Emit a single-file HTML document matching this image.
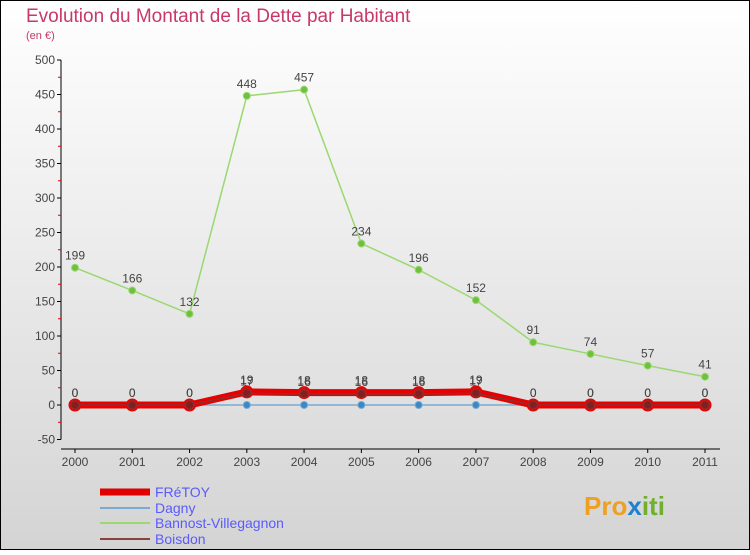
<!DOCTYPE html>
<html><head><meta charset="utf-8"><style>
body{margin:0;}
svg text{font-family:"Liberation Sans",sans-serif;}
</style></head><body>
<svg id="c" width="750" height="550" xmlns="http://www.w3.org/2000/svg">
<defs><linearGradient id="bg" x1="0" y1="0" x2="0" y2="1"><stop offset="0" stop-color="#ffffff"/><stop offset="1" stop-color="#d4d4d4"/></linearGradient></defs>
<rect x="0.5" y="0.5" width="749" height="549" fill="url(#bg)" stroke="#000"/>
<text x="26" y="22" font-size="19" fill="#c8386a">Evolution du Montant de la Dette par Habitant</text>
<text x="26" y="39" font-size="11" fill="#c8386a">(en €)</text>
<g id="axes"></g><g id="series"></g>
<g>
<line x1="100" y1="492" x2="150" y2="492" stroke="#e00000" stroke-width="7"/>
<text x="155" y="497" font-size="14" fill="#5a5aff">FRéTOY</text>
<line x1="100" y1="508" x2="150" y2="508" stroke="#7aaad0" stroke-width="2"/>
<text x="155" y="513" font-size="14" fill="#5a5aff">Dagny</text>
<line x1="100" y1="523" x2="150" y2="523" stroke="#9ad870" stroke-width="2"/>
<text x="155" y="528" font-size="14" fill="#5a5aff">Bannost-Villegagnon</text>
<line x1="100" y1="539" x2="150" y2="539" stroke="#8a4040" stroke-width="2"/>
<text x="155" y="544" font-size="14" fill="#5a5aff">Boisdon</text>
</g>
<text x="584" y="515" font-size="26" font-weight="bold" fill="#f0a020">Pro<tspan fill="#2080d0">x</tspan><tspan fill="#70b030">iti</tspan></text>
</svg>
<script>
const years=["2000","2001","2002","2003","2004","2005","2006","2007","2008","2009","2010","2011"];
const yTicks=[-50,0,50,100,150,200,250,300,350,400,450,500];
const fretoy=[0,0,0,19,18,18,18,19,0,0,0,0];
const dagny=[0,0,0,0,0,0,0,0,0,0,0,0];
const bannost=[199,166,132,448,457,234,196,152,91,74,57,41];
const boisdon=[0,0,0,17,16,16,16,17,0,0,0,0];
const NS="http://www.w3.org/2000/svg";
const X=i=>75+i*(630/11);
const Y=v=>405-v*(345/500);
function mk(t,a,p){const e=document.createElementNS(NS,t);for(const k in a)e.setAttribute(k,a[k]);p.appendChild(e);return e;}
const ax=document.getElementById('axes'),se=document.getElementById('series');
let yl=mk('line',{x1:61,y1:Y(500),x2:61,y2:Y(-50),stroke:'#000'},ax);


yTicks.forEach((v,k)=>{mk('line',{x1:57,y1:Y(v),x2:61,y2:Y(v),stroke:'#000'},ax);
if(k<yTicks.length-1)mk('line',{x1:58,y1:Y(v+25),x2:61,y2:Y(v+25),stroke:'#e00000'},ax);
const t=mk('text',{x:55,y:Y(v)+4,'font-size':12,fill:'#444','text-anchor':'end'},ax);t.textContent=v;

});
let xl=mk('line',{x1:61,y1:449,x2:720,y2:449,stroke:'#000'},ax);


years.forEach((y,i)=>{mk('line',{x1:X(i),y1:449,x2:X(i),y2:453,stroke:'#000'},ax);
const t=mk('text',{x:X(i),y:466,'font-size':12,fill:'#444','text-anchor':'middle'},ax);t.textContent=y;

});
function series(d,name,col,w,r,dot,lbl){
const g=mk('g',{},se);


mk('polyline',{points:d.map((v,i)=>X(i)+','+Y(v)).join(' '),fill:'none',stroke:col,'stroke-width':w,'stroke-linejoin':'round'},g);
d.forEach((v,i)=>{const c=mk('circle',{cx:X(i),cy:Y(v),r:r,fill:dot,stroke:col,'stroke-width':1},g);


if(lbl){const t=mk('text',{x:X(i),y:Y(v)-8,'font-size':12,fill:'#444','text-anchor':'middle'},g);t.textContent=v;

}});}
series(bannost,'bannost','#9ad870',1.5,3.5,'#70c040',true);
series(dagny,'dagny','#7aaad0',1.5,3.5,'#3a88c8',false);
series(fretoy,'fretoy','#e80000',7,6,'#d01010',true);
series(boisdon,'boisdon','#8a3030',1.5,4,'#802020',true);
</script>
</body></html>
